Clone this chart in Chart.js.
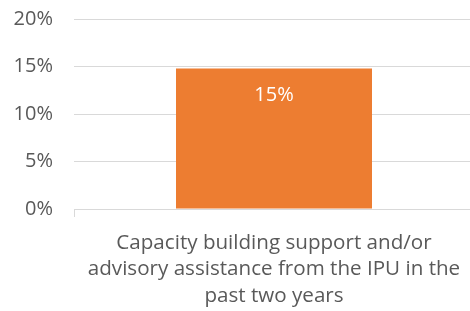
<!DOCTYPE html>
<html>
<head>
<meta charset="utf-8">
<script src="https://cdn.jsdelivr.net/npm/chart.js@4/dist/chart.umd.min.js"></script>
<style>
html,body{margin:0;padding:0;overflow:hidden;background:#fff;}
#wrap{width:470px;height:311px;position:relative;overflow:hidden;}
#c{position:absolute;left:0;top:-12px;}
</style>
</head>
<body>
<div id="wrap"><canvas id="c" width="474" height="323"></canvas></div>
<script>
const categories = [["Capacity building support and/or","advisory assistance from the IPU in the","past two years"]];
const values = [0.148];
const valueLabels = ["15%"];
const yTicks = [0, 0.05, 0.10, 0.15, 0.20];

const FONT = "'Open Sans', sans-serif";

const dataLabelPlugin = {
  id: 'dataLabels',
  afterDatasetsDraw(chart) {
    const ctx = chart.ctx;
    const meta = chart.getDatasetMeta(0);
    ctx.save();
    ctx.fillStyle = '#ffffff';
    ctx.font = "20px " + FONT;
    ctx.textAlign = 'center';
    ctx.textBaseline = 'middle';
    meta.data.forEach((bar, i) => {
      ctx.fillText(valueLabels[i], bar.x, bar.y + 27);
    });
    ctx.restore();
  }
};

new Chart(document.getElementById('c'), {
  type: 'bar',
  data: {
    labels: categories,
    datasets: [{
      data: values,
      backgroundColor: '#ED7D31',
      borderWidth: 0,
      categoryPercentage: 1,
      barPercentage: 0.49
    }]
  },
  options: {
    responsive: false,
    animation: false,
    devicePixelRatio: 1,
    layout: { padding: { top: 0, right: 0, bottom: 0, left: 0 } },
    plugins: { legend: { display: false }, tooltip: { enabled: false } },
    scales: {
      y: {
        min: 0, max: 0.2,
        afterFit(scale) { scale.width = 74; },
        afterBuildTicks(scale) { scale.ticks = yTicks.map(v => ({ value: v })); },
        ticks: {
          padding: 21,
          color: '#595959',
          font: { family: FONT, size: 20, lineHeight: 1 },
          callback: v => Math.round(v * 100) + '%'
        },
        grid: { color: '#d9d9d9', lineWidth: 1, drawTicks: false },
        border: { display: false }
      },
      x: {
        afterFit(scale) { scale.height = 102; },
        ticks: {
          padding: 13,
          maxRotation: 0,
          color: '#595959',
          font: { family: FONT, size: 20.6, lineHeight: 1.28 }
        },
        grid: { display: true, drawOnChartArea: false, drawTicks: true, tickLength: 8, color: '#d9d9d9', offset: true },
        border: { display: true, color: '#d9d9d9', width: 1 }
      }
    }
  },
  plugins: [dataLabelPlugin]
});
</script>
</body>
</html>
